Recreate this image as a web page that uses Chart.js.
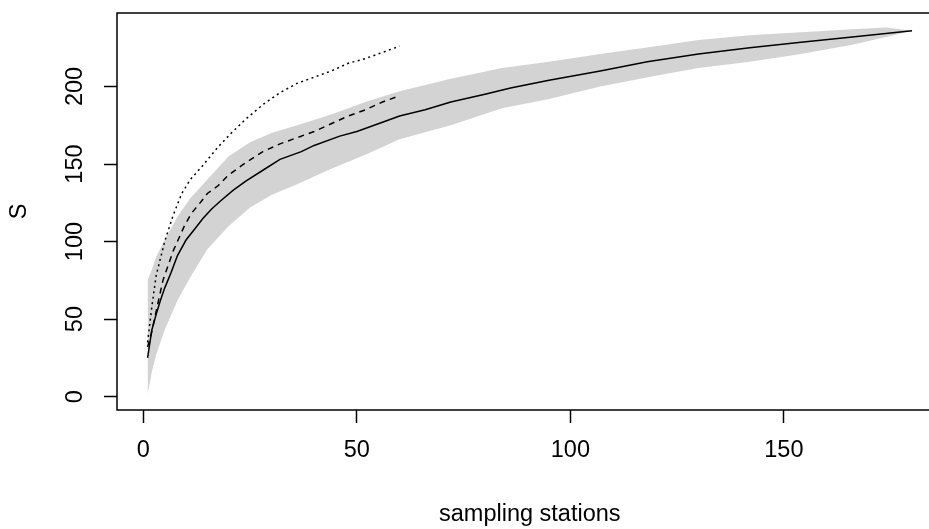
<!DOCTYPE html>
<html>
<head>
<meta charset="utf-8">
<script src="https://cdn.jsdelivr.net/npm/chart.js@4/dist/chart.umd.min.js"></script>
<style>
  html, body { margin: 0; padding: 0; background: #ffffff; overflow: hidden; }
  #wrap { width: 929px; height: 529px; overflow: hidden; }
  #chart { display: block; }
</style>
</head>
<body>
<div id="wrap"><canvas id="chart" width="943" height="529"></canvas></div>
<script>
// Species accumulation: mean richness S with its envelope, plus two estimator curves.

// Envelope around the accumulation curve
const bandStations = [1, 2, 3, 5, 8, 11, 15, 20, 25, 30, 36, 44, 52, 60, 72, 84, 95, 107, 120, 130, 142, 154, 166, 174, 180];
const bandUpper    = [75, 82, 90, 101, 116, 128, 140, 155, 164, 170, 175, 182, 190, 197, 205, 212, 216, 221, 226, 230, 233, 235, 237, 238, 236];
const bandLower    = [1, 16, 27, 43, 62, 77, 95, 110, 122, 130, 137, 147, 156, 166, 175, 186, 192, 200, 207, 212, 216, 221, 227, 232, 236];

// Mean accumulated species (solid line)
const meanStations = [1, 2, 3, 4, 5, 6.5, 8, 10, 12, 14, 16, 18, 21, 24, 28, 32, 37, 40, 46, 50, 56, 60, 66, 72, 80, 86, 95, 107, 118, 130, 142, 154, 166, 180];
const meanS        = [25, 43, 53, 62, 70, 80, 91, 101, 108, 115, 121, 126, 133, 139, 146, 153, 158, 162, 168, 171, 177, 181, 185, 190, 195, 199, 204, 210, 216, 221, 225, 228.5, 232, 236];

// Estimator curves over the first 60 stations
const estStations  = [1, 2, 3, 4.6, 7, 9.6, 11.2, 13.6, 15, 17.5, 20, 23, 28, 32, 36, 40, 44, 48, 52, 56, 60];
const dashedS      = [32, 42, 55, 75, 94, 110, 118, 126, 131, 136, 143, 149, 158, 163, 167, 171, 176, 181, 185, 190, 194];
const dotStations  = [1, 2, 3, 5, 7, 9, 11, 13.6, 17.5, 20.6, 24, 28.3, 32, 36, 40, 44, 48, 52, 56, 60];
const dottedS      = [35, 58, 78, 100, 117, 131, 140, 148, 161, 170, 179, 189, 196, 202, 206, 210, 215, 218, 222, 226];

// Axis ranges, ticks and titles
const xRange = [-6.16, 187.16];
const yRange = [-8.6, 247.4];
const xTicks = [0, 50, 100, 150];
const yTicks = [0, 50, 100, 150, 200];
const xTitle = 'sampling stations';
const yTitle = 'S';

const pts = (xs, ys) => xs.map((x, i) => ({ x: x, y: ys[i] }));
const FONT = 'Liberation Sans, Arial, Helvetica, sans-serif';
const FS = 23.5;

// plot frame around the data region
const frame = {
  id: 'frame',
  afterDatasetsDraw(chart) {
    const a = chart.chartArea;
    const ctx = chart.ctx;
    ctx.save();
    ctx.strokeStyle = '#000';
    ctx.lineWidth = 1.5;
    ctx.strokeRect(a.left, a.top, a.right - a.left, a.bottom - a.top);
    ctx.restore();
  }
};

const noPad = s => { s.paddingTop = 0; s.paddingBottom = 0; s.paddingLeft = 0; s.paddingRight = 0; };

new Chart(document.getElementById('chart'), {
  type: 'line',
  data: {
    datasets: [
      { label: 'mean', data: pts(meanStations, meanS), borderColor: '#000', borderWidth: 1.5, pointRadius: 0, fill: false, tension: 0 },
      { label: 'dashed', data: pts(estStations, dashedS), borderColor: '#000', borderWidth: 1.5, borderDash: [6, 5], pointRadius: 0, fill: false, tension: 0 },
      { label: 'dotted', data: pts(dotStations, dottedS), borderColor: '#000', borderWidth: 1.5, borderDash: [2, 3.5], pointRadius: 0, fill: false, tension: 0 },
      { label: 'upper', data: pts(bandStations, bandUpper), borderWidth: 0, borderColor: 'rgba(0,0,0,0)', backgroundColor: '#d3d3d3', pointRadius: 0, fill: '+1', tension: 0 },
      { label: 'lower', data: pts(bandStations, bandLower), borderWidth: 0, borderColor: 'rgba(0,0,0,0)', pointRadius: 0, fill: false, tension: 0 }
    ]
  },
  options: {
    responsive: false,
    animation: false,
    devicePixelRatio: 1,
    layout: { padding: { top: 13, right: 0.4, left: 0, bottom: 0 } },
    plugins: {
      legend: { display: false },
      tooltip: { enabled: false },
      filler: { drawTime: 'beforeDatasetsDraw' }
    },
    scales: {
      x: {
        type: 'linear',
        min: xRange[0],
        max: xRange[1],
        afterBuildTicks: s => { s.ticks = xTicks.map(v => ({ value: v })); },
        afterFit: s => { s.height = 119; noPad(s); },
        grid: { drawOnChartArea: false, drawTicks: true, tickLength: 13, tickColor: '#000', tickWidth: 1.5 },
        border: { display: false },
        ticks: { color: '#000', font: { family: FONT, size: FS }, padding: 13, maxRotation: 0, autoSkip: false },
        title: { display: true, text: xTitle, color: '#000', font: { family: FONT, size: FS }, padding: { top: 0, bottom: 0 } }
      },
      y: {
        type: 'linear',
        min: yRange[0],
        max: yRange[1],
        afterBuildTicks: s => { s.ticks = yTicks.map(v => ({ value: v })); },
        afterFit: s => { s.width = 117; noPad(s); },
        grid: { drawOnChartArea: false, drawTicks: true, tickLength: 13, tickColor: '#000', tickWidth: 1.5 },
        border: { display: false },
        ticks: { color: '#000', font: { family: FONT, size: FS }, padding: 8.5, minRotation: 90, maxRotation: 90, crossAlign: 'center', autoSkip: false },
        title: { display: true, text: yTitle, color: '#000', font: { family: FONT, size: FS }, padding: { top: 5, bottom: 0 } }
      }
    }
  },
  plugins: [frame]
});
</script>
</body>
</html>
